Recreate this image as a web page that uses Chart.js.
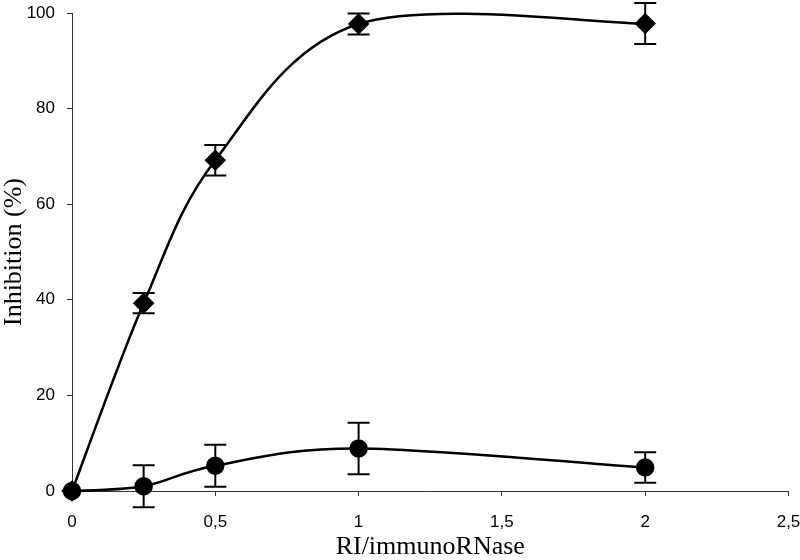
<!DOCTYPE html>
<html>
<head>
<meta charset="utf-8">
<script src="https://cdn.jsdelivr.net/npm/chart.js@4/dist/chart.umd.min.js"></script>
<style>
html,body{margin:0;padding:0;background:#fff;}
#c{display:block;}
</style>
</head>
<body>
<canvas id="c" width="800" height="560"></canvas>
<script>
const xValues = [0, 0.25, 0.5, 1, 2];
const diamondValues = [0, 39.3, 69.2, 97.7, 97.8];
const diamondErrors = [0, 2.1, 3.2, 2.2, 4.3];
const circleValues = [0, 1.0, 5.3, 8.9, 4.9];
const circleErrors = [0, 4.4, 4.4, 5.4, 3.2];
const xTicks = [0, 0.5, 1, 1.5, 2, 2.5];
const yTicks = [0, 20, 40, 60, 80, 100];

function pts(vals){ return xValues.map((x,i)=>({x:x, y:vals[i]})); }

// Excel-like smoothing: re-derive the Bezier control points of the library's line
const smoothLines = {
  id: 'smoothLines',
  beforeDatasetsDraw(chart){
    chart.data.datasets.forEach((ds, di) => {
      const meta = chart.getDatasetMeta(di);
      const line = meta.dataset;
      const p = meta.data;
      if (!line || !p.length) return;
      if (line.updateControlPoints) line.updateControlPoints(chart.chartArea, 'x');
      const n = p.length;
      for (let i = 0; i < n; i++) {
        const prev = p[Math.max(i - 1, 0)], next = p[Math.min(i + 1, n - 1)];
        const dx = (next.x - prev.x) / 6, dy = (next.y - prev.y) / 6;
        p[i].cp1x = p[i].x - dx; p[i].cp1y = p[i].y - dy;
        p[i].cp2x = p[i].x + dx; p[i].cp2y = p[i].y + dy;
      }
      line._pointsUpdated = true;
      line._path = undefined;
    });
  }
};

const errorBars = {
  id: 'errorBars',
  afterDatasetsDraw(chart){
    const ctx = chart.ctx;
    const xs = chart.scales.x, ys = chart.scales.y;
    const sets = [diamondErrors, circleErrors];
    const vals = [diamondValues, circleValues];
    ctx.save();
    ctx.strokeStyle = '#000';
    ctx.lineWidth = 2;
    sets.forEach((errs, s) => {
      xValues.forEach((x, i) => {
        const e = errs[i];
        if (!e) return;
        const px = xs.getPixelForValue(x);
        const top = ys.getPixelForValue(vals[s][i] + e);
        const bot = ys.getPixelForValue(vals[s][i] - e);
        ctx.beginPath();
        ctx.moveTo(px, top); ctx.lineTo(px, bot);
        ctx.moveTo(px - 11, top); ctx.lineTo(px + 11, top);
        ctx.moveTo(px - 11, bot); ctx.lineTo(px + 11, bot);
        ctx.stroke();
      });
    });
    ctx.restore();
  }
};

new Chart(document.getElementById('c'), {
  type: 'line',
  data: {
    datasets: [
      {
        data: pts(diamondValues),
        borderColor: '#000', backgroundColor: '#000',
        borderWidth: 2.5, tension: 0.4,
        pointStyle: 'rectRot', pointRadius: 9, pointHoverRadius: 9,
        clip: false
      },
      {
        data: pts(circleValues),
        borderColor: '#000', backgroundColor: '#000',
        borderWidth: 2.5, tension: 0.4,
        pointStyle: 'circle', pointRadius: 8, pointHoverRadius: 8,
        clip: false
      }
    ]
  },
  options: {
    responsive: false,
    animation: false,
    events: [],
    layout: { padding: 0 },
    plugins: { legend: { display: false }, tooltip: { enabled: false } },
    scales: {
      x: {
        type: 'linear', min: 0, max: 2.5,
        afterBuildTicks(scale){ scale.ticks = xTicks.map(v => ({value: v})); },
        afterFit(scale){ scale.height = 69; scale.paddingLeft = 0; scale.paddingRight = 10; },
        grid: { drawOnChartArea: false, drawTicks: true, tickLength: 5, color: '#333' },
        border: { color: '#333', width: 1 },
        ticks: {
          color: '#000', padding: 16,
          font: { family: 'Liberation Sans, Arial, sans-serif', size: 17 },
          callback: v => String(v).replace('.', ',')
        },
        title: {
          display: true, text: 'RI/immunoRNase', color: '#000',
          font: { family: 'Liberation Serif, Times New Roman, serif', size: 26, lineHeight: 1.1 },
          padding: { top: 0, bottom: -1 }
        }
      },
      y: {
        type: 'linear', min: 0, max: 100,
        afterBuildTicks(scale){ scale.ticks = yTicks.map(v => ({value: v})); },
        afterFit(scale){ scale.width = 72; scale.paddingTop = 13; scale.paddingBottom = 0; },
        grid: { drawOnChartArea: false, drawTicks: true, tickLength: 5, color: '#333' },
        border: { color: '#333', width: 1 },
        ticks: {
          color: '#000', padding: 12,
          font: { family: 'Liberation Sans, Arial, sans-serif', size: 17 }
        },
        title: {
          display: true, text: 'Inhibition (%)', color: '#000',
          font: { family: 'Liberation Serif, Times New Roman, serif', size: 26, lineHeight: 1.1 },
          padding: { top: 0, bottom: 0 }
        }
      }
    }
  },
  plugins: [smoothLines, errorBars]
});
</script>
</body>
</html>
